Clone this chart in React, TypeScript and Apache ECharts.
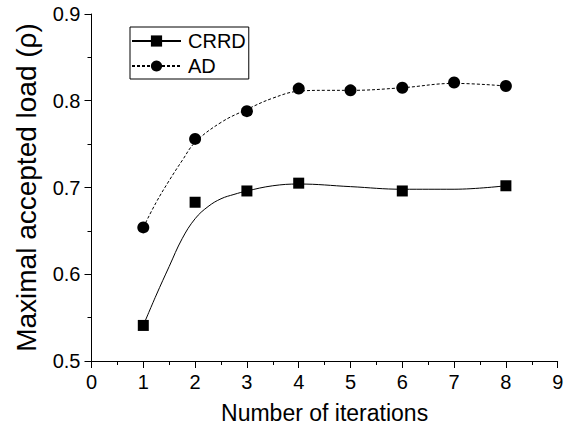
import React, { useEffect, useRef } from "react";
import * as echarts from "echarts";

// Measured markers
const crrdX = [1, 2, 3, 4, 6, 8];
const crrdY = [0.541, 0.683, 0.696, 0.705, 0.696, 0.702];
const adX = [1, 2, 3, 4, 5, 6, 7, 8];
const adY = [0.654, 0.756, 0.788, 0.814, 0.812, 0.815, 0.821, 0.817];

// Fitted curves
const crrdCurveX = [1, 1.25, 1.5, 1.75, 2, 2.25, 2.5, 2.75, 3, 3.5, 4, 5, 6, 7, 8];
const crrdCurveY = [0.541, 0.576, 0.609, 0.641, 0.664, 0.678, 0.687, 0.692, 0.696, 0.702, 0.704, 0.701, 0.698, 0.698, 0.702];
const adCurveX = [1, 1.25, 1.5, 1.75, 2, 2.5, 3, 3.5, 4, 4.5, 5, 6, 7, 8];
const adCurveY = [0.654, 0.683, 0.708, 0.731, 0.752, 0.775, 0.790, 0.803, 0.811, 0.812, 0.812, 0.815, 0.820, 0.817];

const xTicks = { min: 0, max: 9, interval: 1 };
const yTicks = { min: 0.5, max: 0.9, interval: 0.1 };

const FONT = "'Liberation Sans', Arial, Helvetica, sans-serif";

export default function App() {
  const ref = useRef<HTMLDivElement>(null);
  useEffect(() => {
    if (!ref.current) return;
    const chart = echarts.init(ref.current, null, { renderer: "svg" });
    const zip = (xs: number[], ys: number[]) => xs.map((x, i) => [x, ys[i]]);
    const axisCommon = {
      axisLine: { show: true, lineStyle: { color: "#000", width: 1 } },
      axisTick: { show: true, inside: false, length: 7, lineStyle: { color: "#000" } },
      minorTick: { show: true, splitNumber: 2, length: 4, lineStyle: { color: "#000" } },
      splitLine: { show: false },
      minorSplitLine: { show: false },
      axisLabel: { color: "#000", fontSize: 20, fontFamily: FONT },
      nameLocation: "middle" as const,
      nameTextStyle: { color: "#000", fontFamily: FONT },
    };
    chart.setOption({
      animation: false,
      backgroundColor: "#fff",
      grid: { left: 91.5, right: 21.3, top: 14, bottom: 78, containLabel: false },
      legend: {
        data: ["CRRD", "AD"],
        orient: "vertical",
        left: 130,
        top: 27,
        itemWidth: 49,
        itemHeight: 14,
        itemGap: 5,
        padding: [4, 3, 3, 1],
        borderColor: "#000",
        borderWidth: 1,
        backgroundColor: "#fff",
        textStyle: { color: "#000", fontSize: 20, fontFamily: FONT, padding: [0, 0, 0, 2] },
      },
      xAxis: {
        type: "value",
        ...xTicks,
        ...axisCommon,
        axisLabel: { ...axisCommon.axisLabel, margin: 11 },
        name: "Number of iterations",
        nameGap: 40,
        nameTextStyle: { ...axisCommon.nameTextStyle, fontSize: 23 },
      },
      yAxis: {
        type: "value",
        ...yTicks,
        ...axisCommon,
        axisLabel: { ...axisCommon.axisLabel, margin: 11, formatter: (v: number) => v.toFixed(1) },
        name: "Maximal accepted load (ρ)",
        nameGap: 51,
        nameTextStyle: { ...axisCommon.nameTextStyle, fontSize: 28 },
      },
      series: [
        {
          name: "CRRD",
          type: "line",
          data: zip(crrdCurveX, crrdCurveY),
          smooth: 0.4,
          showSymbol: false,
          symbol: "rect",
          symbolSize: 11,
          color: "#000",
          lineStyle: { color: "#000", width: 1, type: "solid" },
          itemStyle: { color: "#000", opacity: 1 },
          z: 2,
        },
        {
          name: "AD",
          type: "line",
          data: zip(adCurveX, adCurveY),
          smooth: 0.4,
          showSymbol: false,
          symbol: "circle",
          symbolSize: 11,
          color: "#000",
          lineStyle: { color: "#000", width: 1, type: [3, 2] },
          itemStyle: { color: "#000", opacity: 1 },
          z: 2,
        },
        {
          name: "crrdPts",
          type: "scatter",
          data: zip(crrdX, crrdY),
          symbol: "rect",
          symbolSize: 11,
          itemStyle: { color: "#000", opacity: 1 },
          z: 3,
        },
        {
          name: "adPts",
          type: "scatter",
          data: zip(adX, adY),
          symbol: "circle",
          symbolSize: 12,
          itemStyle: { color: "#000", opacity: 1 },
          z: 3,
        },
      ],
    });
    return () => chart.dispose();
  }, []);
  return (
    <div
      ref={ref}
      style={{ position: "fixed", left: 0, top: 0, width: 579, height: 439, background: "#fff" }}
    />
  );
}
